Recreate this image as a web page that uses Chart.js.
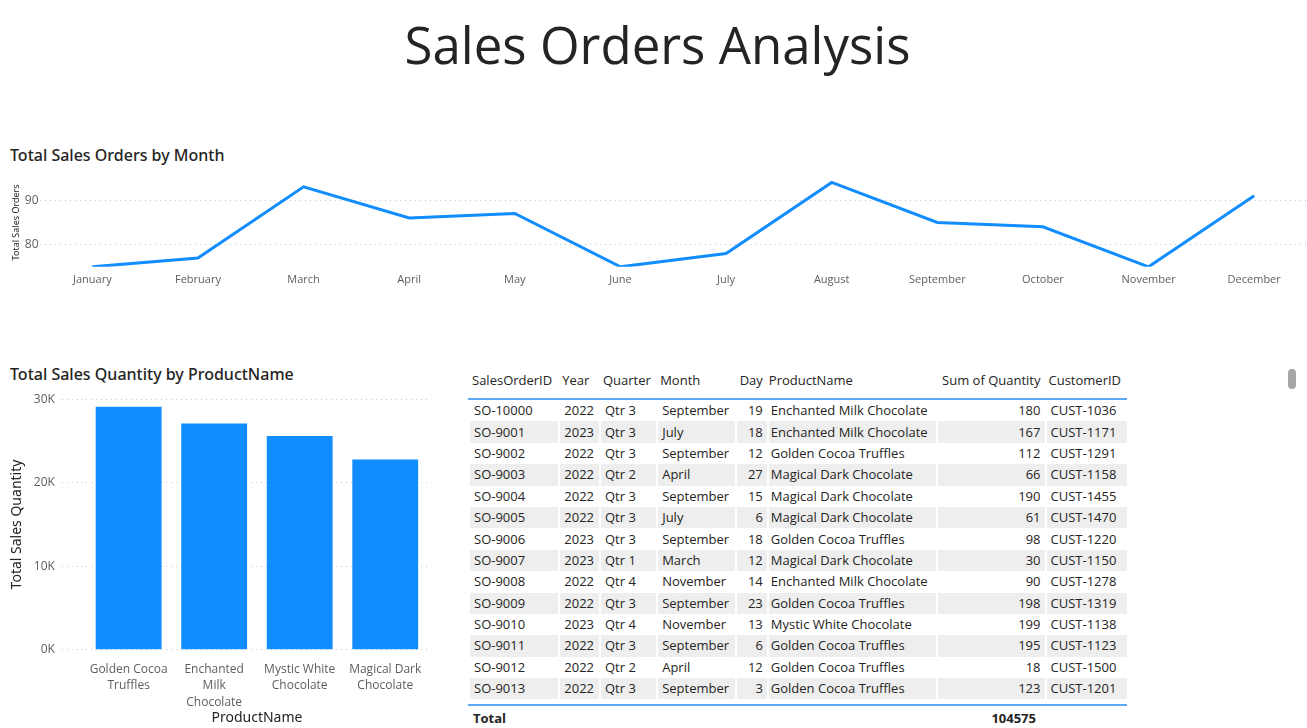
<!DOCTYPE html>
<html>
<head>
<meta charset="utf-8">
<script src="https://cdn.jsdelivr.net/npm/chart.js@4.4.1/dist/chart.umd.min.js"></script>
<style>
  html, body { margin:0; padding:0; background:#fff; width:1307px; height:728px; overflow:hidden; }
  body { position:relative; font-family:"Open Sans", "Noto Sans", sans-serif; color:#252423; }
  #title { position:absolute; left:4px; width:1307px; top:9px; text-align:center; font-size:51px; font-weight:400; }
  .vtitle { position:absolute; left:10px; font-size:16px; font-family:"Noto Sans", sans-serif; font-weight:500; color:#252423; }
  #lineWrap { position:absolute; left:0; top:165px; width:1307px; height:127px; }
  #barWrap { position:absolute; left:0; top:385px; width:460px; height:343px; }
  #tbl { position:absolute; left:468px; top:366px; width:660px; }
  table { border-collapse:separate; border-spacing:0; width:659px; font-size:13px; font-family:"Open Sans", sans-serif; }
  th { font-weight:400; text-align:left; height:28px; padding:0 4px 4px 4px; border-bottom:2px solid #5aaaf5; white-space:nowrap; }
  td { height:21.4px; padding:0 4px; white-space:nowrap; line-height:19px; border-left:2px solid #fff; }
  tr.alt td { background:#eeeeee; }
  td.num, th.num { text-align:right; }
  td.prod, th.prod { padding-left:2px; }
  #total { position:absolute; left:468px; top:704px; width:659px; border-top:2px solid #5aaaf5; font-size:13px; font-weight:700; height:24px; }
  #scroll { position:absolute; left:1288px; top:369px; width:8px; height:20px; border-radius:4px; background:#a6a6a6; }
</style>
</head>
<body>
<div id="title">Sales Orders Analysis</div>
<div class="vtitle" style="top:144px">Total Sales Orders by Month</div>
<div id="lineWrap"><canvas id="lineChart"></canvas></div>
<div class="vtitle" style="top:363px">Total Sales Quantity by ProductName</div>
<div id="barWrap"><canvas id="barChart"></canvas></div>
<div id="tbl"></div>
<div id="total"><span style="position:absolute;left:5px;top:3px">Total</span><span id="totVal" style="position:absolute;right:91px;top:3px"></span></div>
<div id="scroll"></div>
<script>
// line chart data
const months = ['January','February','March','April','May','June','July','August','September','October','November','December'];
const orders = [75, 77, 93, 86, 87, 75, 78, 94, 85, 84, 75, 91];
const orderTicks = [80, 90];

// bar chart data
const products = [['Golden Cocoa','Truffles'], ['Enchanted','Milk','Chocolate'], ['Mystic White','Chocolate'], ['Magical Dark','Chocolate']];
const quantities = [29100, 27100, 25600, 22775];
const qtyTicks = [0, 10000, 20000, 30000];

// table data (one array per column)
const orderIds = ['SO-10000','SO-9001','SO-9002','SO-9003','SO-9004','SO-9005','SO-9006','SO-9007','SO-9008','SO-9009','SO-9010','SO-9011','SO-9012','SO-9013'];
const years = [2022,2023,2022,2022,2022,2022,2023,2023,2022,2022,2023,2022,2022,2022];
const quarters = ['Qtr 3','Qtr 3','Qtr 3','Qtr 2','Qtr 3','Qtr 3','Qtr 3','Qtr 1','Qtr 4','Qtr 3','Qtr 4','Qtr 3','Qtr 2','Qtr 3'];
const monthCol = ['September','July','September','April','September','July','September','March','November','September','November','September','April','September'];
const days = [19,18,12,27,15,6,18,12,14,23,13,6,12,3];
const productCol = ['Enchanted Milk Chocolate','Enchanted Milk Chocolate','Golden Cocoa Truffles','Magical Dark Chocolate','Magical Dark Chocolate','Magical Dark Chocolate','Golden Cocoa Truffles','Magical Dark Chocolate','Enchanted Milk Chocolate','Golden Cocoa Truffles','Mystic White Chocolate','Golden Cocoa Truffles','Golden Cocoa Truffles','Golden Cocoa Truffles'];
const qtyCol = [180,167,112,66,190,61,98,30,90,198,199,195,18,123];
const customers = ['CUST-1036','CUST-1171','CUST-1291','CUST-1158','CUST-1455','CUST-1470','CUST-1220','CUST-1150','CUST-1278','CUST-1319','CUST-1138','CUST-1123','CUST-1500','CUST-1201'];
const totalQty = 104575;

const blue = '#118DFF';

new Chart(document.getElementById('lineChart'), {
  type: 'line',
  data: { labels: months, datasets: [{ data: orders, borderColor: blue, borderWidth: 3, pointRadius: 0, tension: 0 }] },
  options: {
    responsive: true, maintainAspectRatio: false, animation: false,
    layout: { padding: { top: 13, right: 0, bottom: 0, left: 4 } },
    plugins: { legend: { display: false }, tooltip: { enabled: false } },
    scales: {
      x: {
        offset: true,
        grid: { display: false, drawTicks: false }, border: { display: false },
        ticks: { color: '#605e5c', font: { family: 'Open Sans', size: 11 }, padding: 6, maxRotation: 0, autoSkip: false }
      },
      y: {
        min: 75, max: 95,
        afterBuildTicks: s => { s.ticks = orderTicks.map(v => ({ value: v })); },
        grid: { color: '#c8c6c4', drawTicks: false },
        border: { display: false, dash: [1, 4] },
        ticks: { color: '#605e5c', font: { family: 'Open Sans', size: 12 }, padding: 1 },
        title: { display: true, text: 'Total Sales Orders', color: '#252423', font: { family: 'Noto Sans', size: 9 }, padding: { top: 7, bottom: 2 } }
      }
    }
  }
});

new Chart(document.getElementById('barChart'), {
  type: 'bar',
  data: { labels: products, datasets: [{ data: quantities, backgroundColor: blue, barPercentage: 0.77, categoryPercentage: 1 }] },
  options: {
    responsive: true, maintainAspectRatio: false, animation: false,
    layout: { padding: { top: 9, right: 32, bottom: 2, left: 3 } },
    plugins: { legend: { display: false }, tooltip: { enabled: false } },
    scales: {
      x: {
        grid: { display: false, drawTicks: false }, border: { display: false },
        ticks: { color: '#605e5c', font: { family: 'Open Sans', size: 12, lineHeight: 1.4 }, padding: 11, maxRotation: 0, autoSkip: false },
        title: { display: true, text: 'ProductName', color: '#252423', font: { family: 'Noto Sans', size: 14 }, padding: { top: -13, bottom: 0 } }
      },
      y: {
        min: 0, max: 30000,
        afterBuildTicks: s => { s.ticks = qtyTicks.map(v => ({ value: v })); },
        grid: { color: '#c8c6c4', drawTicks: true, tickLength: 24, tickColor: '#c8c6c4', tickBorderDash: [1, 4] },
        border: { display: false, dash: [1, 4] },
        ticks: { color: '#605e5c', font: { family: 'Open Sans', size: 12 }, padding: 7, callback: v => (v / 1000) + 'K' },
        title: { display: true, text: 'Total Sales Quantity', color: '#252423', font: { family: 'Noto Sans', size: 14 }, padding: { top: 6, bottom: 1 } }
      }
    }
  }
});

// table
let html = '<table><tr><th>SalesOrderID</th><th>Year</th><th>Quarter</th><th>Month</th><th class="num">Day</th><th class="prod">ProductName</th><th class="num">Sum of Quantity</th><th>CustomerID</th></tr>';
for (let i = 0; i < orderIds.length; i++) {
  html += `<tr class="${i % 2 ? 'alt' : ''}"><td>${orderIds[i]}</td><td>${years[i]}</td><td>${quarters[i]}</td><td>${monthCol[i]}</td><td class="num">${days[i]}</td><td class="prod">${productCol[i]}</td><td class="num">${qtyCol[i]}</td><td>${customers[i]}</td></tr>`;
}
html += '</table>';
document.getElementById('tbl').innerHTML = html;
document.getElementById('totVal').textContent = totalQty;
</script>
</body>
</html>
